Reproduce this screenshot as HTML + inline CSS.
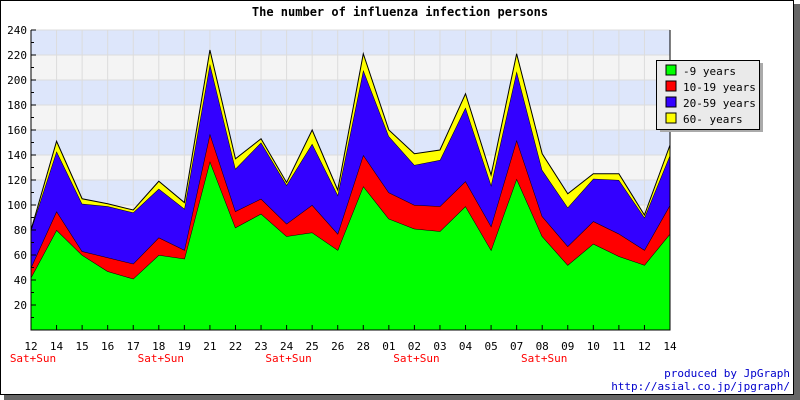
<!DOCTYPE html>
<html><head><meta charset="utf-8"><style>
body{margin:0;background:#fff}
svg{display:block;font-family:"DejaVu Sans Mono","Liberation Mono",monospace}
</style></head><body>
<svg id="chart" width="800" height="400" viewBox="0 0 800 400" xmlns="http://www.w3.org/2000/svg">
<rect x="4" y="4" width="796" height="396" fill="#666"/>
<rect x="0.5" y="0.5" width="793" height="394" fill="#fff" stroke="#000"/>
<text x="400" y="16" text-anchor="middle" font-size="12" font-weight="bold">The number of influenza infection persons</text>
<g id="bands"></g><g id="grid"></g><g id="areas"></g><g id="axes"></g>
<g>
<rect x="660" y="63" width="103" height="69" fill="#aaa"/>
<rect x="656.5" y="60.5" width="103" height="69" fill="#eaeaea" stroke="#000"/>
<g font-size="11">
<rect x="666" y="65" width="10" height="10" fill="#00ff00" stroke="#000"/><text x="683" y="75">-9 years</text>
<rect x="666" y="81" width="10" height="10" fill="#ff0000" stroke="#000"/><text x="683" y="91">10-19 years</text>
<rect x="666" y="97" width="10" height="10" fill="#3300ff" stroke="#000"/><text x="683" y="107">20-59 years</text>
<rect x="666" y="113" width="10" height="10" fill="#ffff00" stroke="#000"/><text x="683" y="123">60- years</text>
</g></g>
<text x="790" y="377" text-anchor="end" font-size="11" fill="#0000cc">produced by JpGraph</text>
<text x="790" y="390" text-anchor="end" font-size="11" fill="#0000cc">http://asial.co.jp/jpgraph/</text>
</svg>
<script>
const categories=["12","14","15","16","17","18","19","21","22","23","24","25","26","28","01","02","03","04","05","07","08","09","10","11","12","14"];
const weekendIdx=[0,5,10,15,20];
const age0to9=[42,80,60,47,41,60,57,135,82,93,75,78,64,115,89,81,79,99,64,121,75,52,69,59,52,77];
const age10to19=[8,15,3,11,12,14,7,22,13,12,10,22,13,25,21,19,20,20,19,31,16,15,18,18,12,23];
const age20to59=[30,48,38,41,41,39,33,56,34,45,31,49,31,68,45,32,37,59,33,55,37,31,34,43,26,40];
const age60plus=[0,8,4,2,2,6,5,11,8,3,2,11,4,13,5,9,8,11,8,14,13,11,4,5,2,8];
const yTicks=[20,40,60,80,100,120,140,160,180,200,220,240];
const NS="http://www.w3.org/2000/svg";
const X0=31,X1=670,Y0=330,Y1=30,YMAX=240;
const xS=i=>X0+i*(X1-X0)/(categories.length-1);
const yS=v=>Y0-v*(Y0-Y1)/YMAX;
function mk(tag,attrs,parent){const e=document.createElementNS(NS,tag);for(const k in attrs)e.setAttribute(k,attrs[k]);parent.appendChild(e);return e;}
const bands=document.getElementById('bands'),grid=document.getElementById('grid'),areas=document.getElementById('areas'),axes=document.getElementById('axes');
for(let v=0;v<YMAX;v+=20){const b=mk('rect',{x:X0,y:yS(v+20),width:X1-X0,height:yS(v)-yS(v+20),fill:((v/20)%2===1)?'#dde6fb':'#f4f4f4'},bands);

}
yTicks.forEach(v=>{const l=mk('line',{x1:X0,x2:X1,y1:yS(v),y2:yS(v),stroke:'#dcdcdc'},grid);

});
categories.forEach((c,i)=>{const l=mk('line',{x1:xS(i),x2:xS(i),y1:Y1,y2:Y0,stroke:'#dcdcdc'},grid);

});
const series=[[age0to9,'#00ff00','area-0-9'],[age10to19,'#ff0000','area-10-19'],[age20to59,'#3300ff','area-20-59'],[age60plus,'#ffff00','area-60-plus']];
let base=categories.map(()=>0);
series.forEach(([vals,col,name])=>{const top=base.map((b,i)=>b+vals[i]);
let d='M'+categories.map((c,i)=>xS(i)+','+yS(top[i])).join(' L');
for(let i=categories.length-1;i>=0;i--)d+=' L'+xS(i)+','+yS(base[i]);d+=' Z';
const p=mk('path',{d:d,fill:col,stroke:'none'},areas);


const ln=mk('polyline',{points:categories.map((c,i)=>xS(i)+','+yS(top[i])).join(' '),fill:'none',stroke:'#000','stroke-width':1},areas);


base=top;});
const ax=mk('path',{d:`M${X0},${Y1} V${Y0} H${X1} V${Y1}`,fill:'none',stroke:'#000'},axes);


for(let v=10;v<=YMAX;v+=10){const t=mk('line',{x1:X0,x2:X0+(v%20?3:5),y1:yS(v),y2:yS(v),stroke:'#000'},axes);

}
yTicks.forEach(v=>{const t=mk('text',{x:X0-4,y:yS(v)+4,'text-anchor':'end','font-size':11},axes);t.textContent=v;

});
categories.forEach((c,i)=>{const tk=mk('line',{x1:xS(i),x2:xS(i),y1:Y0,y2:Y0-5,stroke:'#000'},axes);


const t=mk('text',{x:xS(i),y:350,'text-anchor':'middle','font-size':11},axes);t.textContent=c;

});
weekendIdx.forEach(i=>{const t=mk('text',{x:xS(i)+2,y:362,'text-anchor':'middle','font-size':11,fill:'#ff0000'},axes);t.textContent='Sat+Sun';

});
</script>
</body></html>
